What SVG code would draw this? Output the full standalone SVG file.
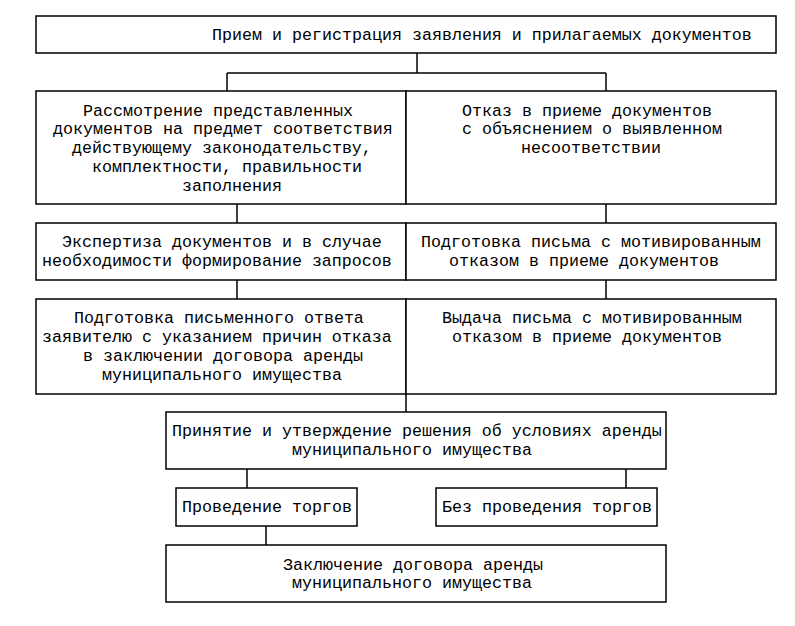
<svg xmlns="http://www.w3.org/2000/svg" width="795" height="626" viewBox="0 0 795 626">
<style>
rect{fill:#fff;stroke:#000;stroke-width:1.5}
.c line{stroke:#000;stroke-width:1.5}
text{font-family:"Liberation Mono","Courier New",monospace;font-size:16.67px;fill:#000;white-space:pre}
</style>
<rect x="0" y="0" width="795" height="626" style="stroke:none"/>
<g class="c" id="connectors">
<line x1="417" y1="53" x2="417" y2="73"/>
<line x1="227" y1="73" x2="606" y2="73"/>
<line x1="227" y1="73" x2="227" y2="91"/>
<line x1="606" y1="73" x2="606" y2="91"/>
<line x1="237" y1="204" x2="237" y2="223"/>
<line x1="606" y1="204" x2="606" y2="223"/>
<line x1="237" y1="280" x2="237" y2="299"/>
<line x1="606" y1="280" x2="606" y2="299"/>
<line x1="406" y1="394" x2="406" y2="412"/>
<line x1="247" y1="469" x2="247" y2="488"/>
<line x1="626" y1="469" x2="626" y2="488"/>
<line x1="266" y1="526" x2="266" y2="545"/>
</g>
<g id="n1"><rect x="36" y="16" width="740" height="37"/>
<text x="212" y="40">Прием и регистрация заявления и прилагаемых документов</text></g>
<g id="n2"><rect x="36" y="91" width="370" height="113"/>
<text x="83" y="116">Рассмотрение представленных</text>
<text x="53" y="134">документов на предмет соответствия</text>
<text x="72" y="153">действующему законодательству,</text>
<text x="92" y="172">комплектности, правильности</text>
<text x="182" y="191">заполнения</text></g>
<g id="n3"><rect x="406" y="91" width="370" height="113"/>
<text x="462" y="116">Отказ в приеме документов</text>
<text x="462" y="134">с объяснением о выявленном</text>
<text x="521" y="153">несоответствии</text></g>
<g id="n4"><rect x="36" y="223" width="370" height="57"/>
<text x="62" y="247">Экспертиза документов и в случае</text>
<text x="42" y="266">необходимости формирование запросов</text></g>
<g id="n5"><rect x="406" y="223" width="370" height="57"/>
<text x="421" y="247">Подготовка письма с мотивированным</text>
<text x="449" y="266">отказом в приеме документов</text></g>
<g id="n6"><rect x="36" y="299" width="370" height="95"/>
<text x="74" y="323">Подготовка письменного ответа</text>
<text x="42" y="342">заявителю с указанием причин отказа</text>
<text x="83" y="361">в заключении договора аренды</text>
<text x="102" y="380">муниципального имущества</text></g>
<g id="n7"><rect x="406" y="299" width="370" height="95"/>
<text x="442" y="323">Выдача письма с мотивированным</text>
<text x="452" y="342">отказом в приеме документов</text></g>
<g id="n8"><rect x="166" y="412" width="500" height="57"/>
<text x="172" y="436">Принятие и утверждение решения об условиях аренды</text>
<text x="292" y="455">муниципального имущества</text></g>
<g id="n9"><rect x="176" y="488" width="181" height="38"/>
<text x="182" y="512">Проведение торгов</text></g>
<g id="n10"><rect x="436" y="488" width="221" height="38"/>
<text x="442" y="512">Без проведения торгов</text></g>
<g id="n11"><rect x="166" y="545" width="500" height="57"/>
<text x="283" y="570">Заключение договора аренды</text>
<text x="292" y="588">муниципального имущества</text></g>
</svg>
